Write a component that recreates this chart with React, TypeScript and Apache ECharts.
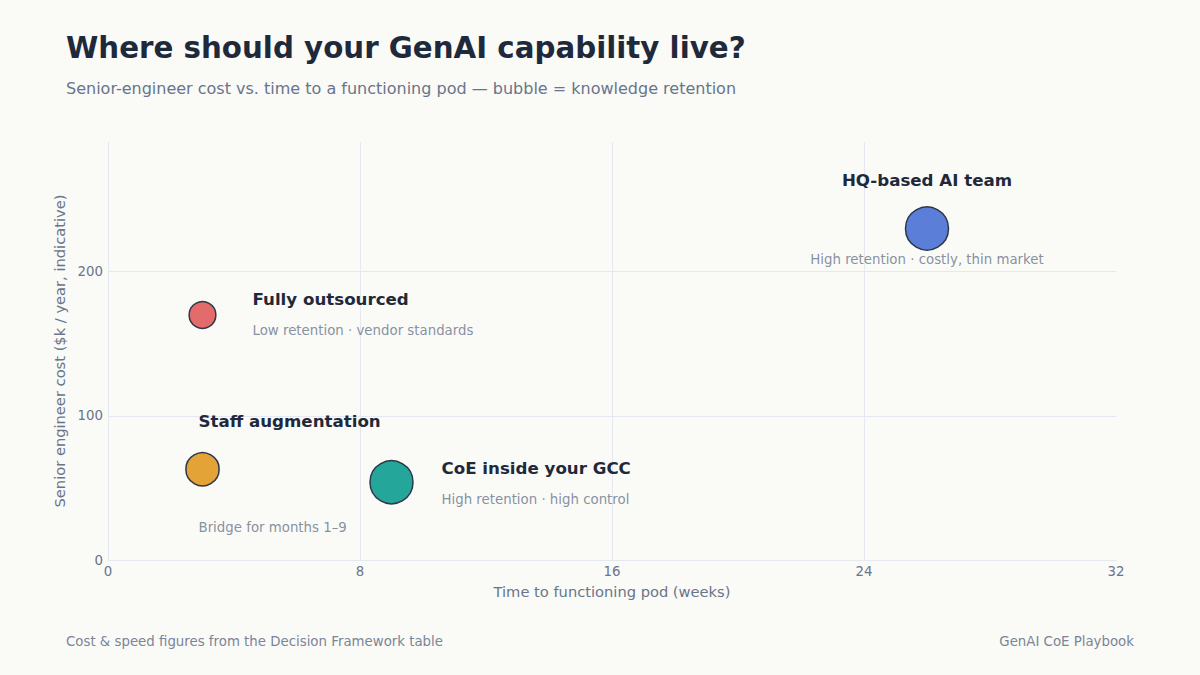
import React, { useEffect, useRef } from 'react';
import * as echarts from 'echarts';

const names = ['Fully outsourced', 'Staff augmentation', 'CoE inside your GCC', 'HQ-based AI team'];
const notes = [
  'Low retention · vendor standards',
  'Bridge for months 1–9',
  'High retention · high control',
  'High retention · costly, thin market',
];
const weeks = [3, 3, 9, 26];
const costK = [170, 63, 54, 230];
const retention = [1.5, 2.5, 4, 4];
const xTicks = [0, 8, 16, 24, 32];
const yTicks = [0, 100, 200];

const colors = ['#e46b6b', '#e3a336', '#24a79a', '#5b7fd9'];
const layouts = [
  { align: 'left', nx: 50, ny: -15, ox: 50, oy: 16 },
  { align: 'left', nx: -4, ny: -48, ox: -4, oy: 58 },
  { align: 'left', nx: 50, ny: -14, ox: 50, oy: 17 },
  { align: 'center', nx: 0, ny: -48, ox: 0, oy: 31 },
];
const sizeFor = (r: number) => 17 + 6.5 * r;

const FONT = 'DejaVu Sans';
const GRID = '#e3e8f1';
const MUTED = '#68758a';

export default function App() {
  const ref = useRef<HTMLDivElement>(null);
  useEffect(() => {
    document.body.style.margin = '0';
    const chart = echarts.init(ref.current!, undefined, { renderer: 'svg' });
    const bubbleData = names.map((n, i) => ({
      name: n,
      value: [weeks[i], costK[i]],
      symbolSize: sizeFor(retention[i]),
      itemStyle: { color: colors[i] },
      label: { align: layouts[i].align, offset: [layouts[i].nx, layouts[i].ny] },
    }));
    const noteData = notes.map((n, i) => ({
      name: n,
      value: [weeks[i], costK[i]],
      label: { align: layouts[i].align, offset: [layouts[i].ox, layouts[i].oy] },
    }));
    chart.setOption({
      animation: false,
      backgroundColor: '#fafaf7',
      textStyle: { fontFamily: FONT },
      grid: { left: 108, right: 84, top: 142, bottom: 115 },
      graphic: [
        {
          type: 'text',
          x: 66,
          y: 48,
          style: {
            text: 'Where should your GenAI capability live?',
            font: `bold 29.3px "${FONT}"`,
            fill: '#1e293b',
            verticalAlign: 'middle',
          },
        },
        {
          type: 'text',
          x: 66,
          y: 88,
          style: {
            text: 'Senior-engineer cost vs. time to a functioning pod — bubble = knowledge retention',
            font: `16px "${FONT}"`,
            fill: MUTED,
            verticalAlign: 'middle',
          },
        },
        {
          type: 'text',
          x: 66,
          y: 641,
          style: {
            text: 'Cost & speed figures from the Decision Framework table',
            font: `13.33px "${FONT}"`,
            fill: '#7b8597',
            verticalAlign: 'middle',
          },
        },
        {
          type: 'text',
          x: 1134,
          y: 641,
          style: {
            text: 'GenAI CoE Playbook',
            font: `13.33px "${FONT}"`,
            fill: '#7b8597',
            align: 'right',
            verticalAlign: 'middle',
          },
        },
      ],
      xAxis: {
        type: 'value',
        min: xTicks[0],
        max: xTicks[xTicks.length - 1],
        interval: xTicks[1] - xTicks[0],
        name: 'Time to functioning pod (weeks)',
        nameLocation: 'middle',
        nameGap: 24,
        nameTextStyle: { color: MUTED, fontSize: 14.67, fontFamily: FONT },
        axisLine: { show: true, lineStyle: { color: GRID } },
        axisTick: { show: false },
        axisLabel: { color: MUTED, fontSize: 13.33, margin: 5, fontFamily: FONT },
        splitLine: { show: true, showMaxLine: false, lineStyle: { color: GRID } },
      },
      yAxis: {
        type: 'value',
        min: yTicks[0],
        max: 290,
        interval: yTicks[1] - yTicks[0],
        name: 'Senior engineer cost ($k / year, indicative)',
        nameLocation: 'middle',
        nameGap: 37,
        nameTextStyle: { color: MUTED, fontSize: 14.67, fontFamily: FONT },
        axisLine: { show: true, lineStyle: { color: GRID } },
        axisTick: { show: false },
        axisLabel: { color: MUTED, fontSize: 13.33, margin: 5, showMaxLabel: false, fontFamily: FONT },
        splitLine: { show: true, showMaxLine: false, lineStyle: { color: GRID } },
      },
      series: [
        {
          type: 'scatter',
          data: bubbleData,
          itemStyle: { borderColor: '#2d3748', borderWidth: 1.5, opacity: 1 },
          label: {
            show: true,
            position: 'inside',
            verticalAlign: 'middle',
            formatter: '{b}',
            color: '#1e293b',
            fontSize: 16.67,
            fontWeight: 'bold',
            fontFamily: FONT,
          },
          emphasis: { disabled: true },
          z: 3,
        },
        {
          type: 'scatter',
          data: noteData,
          symbolSize: 1,
          itemStyle: { color: 'transparent' },
          silent: true,
          label: {
            show: true,
            position: 'inside',
            verticalAlign: 'middle',
            formatter: '{b}',
            color: MUTED,
            fontSize: 13.33,
            fontFamily: FONT,
          },
          emphasis: { disabled: true },
          z: 2,
        },
      ],
    });
    return () => chart.dispose();
  }, []);
  return <div ref={ref} style={{ width: 1200, height: 675 }} />;
}
